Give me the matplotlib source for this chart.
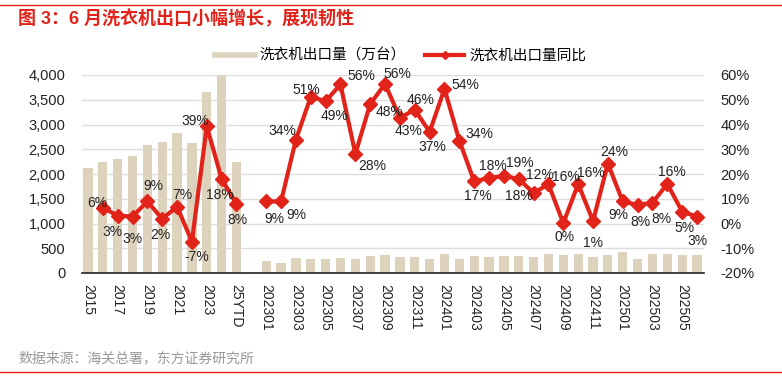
import numpy as np
import matplotlib
matplotlib.use('Agg')
import matplotlib.pyplot as plt
from matplotlib.lines import Line2D

plt.rcParams['font.family'] = ['Liberation Sans', 'Noto Sans CJK SC', 'DejaVu Sans']

# categories: yearly, one empty gap, then monthly
years = ['2015', '2016', '2017', '2018', '2019', '2020', '2021', '2022', '2023', '2024', '25YTD']
months = ['2023%02d' % m for m in range(1, 13)] + ['2024%02d' % m for m in range(1, 13)] + \
         ['2025%02d' % m for m in range(1, 7)]

# export volume (10k units)
year_vol = [2112, 2246, 2300, 2367, 2583, 2644, 2820, 2624, 3650, 4300, 2246]
month_vol = [243, 210, 297, 277, 283, 297, 283, 338, 358, 324, 331, 283,
             385, 277, 344, 324, 344, 344, 317, 391, 358, 385, 331, 358,
             418, 290, 378, 385, 364, 358]

# yoy (%)
year_yoy = [np.nan, 6.4, 3.2, 2.8, 8.9, 1.9, 6.8, -7.3, 39.3, 18.0, 7.9]
month_yoy = [8.9, 8.9, 33.9, 51.2, 49.4, 56.2, 28.1, 48.3, 56.4, 42.7, 46.0, 37.0,
             54.4, 33.5, 17.0, 18.4, 19.2, 18.0, 12.3, 15.9, 0.1, 16.0, 1.0, 24.2,
             8.9, 7.5, 8.4, 16.0, 4.8, 2.8]

# where each yoy label sits relative to its point (dx, dy in points)
year_pos = [None, (-4, 3), (-4, -12), (0, -16.5), (4, 11), (-1.5, -11.5), (3.5, 8.6), (3.5, -11),
            (-8.5, 3.6), (-1.2, -11.5), (1, -11.5)]
month_pos = [(6, -12.5), (11, -9.5), (-10, 6), (-3, 5), (6.4, -10.3), (15, 6.3), (12.5, -8.4), (14, -5.5),
             (8.6, 7.2), (6, -9.6), (4.5, 6.7), (2.2, -10.8), (15, 3), (14.7, 5), (3, -10.8), (3, 8.9),
             (11.3, 9.6), (0, -12), (4.3, 13), (12.5, 5), (1, -9.6), (9, 8), (0, -15.8), (4.5, 8.6),
             (-3.3, -9.6), (1.9, -12), (6.8, -12), (3.2, 8.4), (1.5, -11.8), (0.5, -17.8)]

labels = years + [''] + months
vol = year_vol + [np.nan] + month_vol
yoy = year_yoy + [np.nan] + month_yoy
pos = year_pos + [None] + month_pos
x = np.arange(len(labels))

fig = plt.figure(figsize=(7.82, 3.78), dpi=100)
ax = fig.add_axes([82 / 782, 1 - 273 / 378, (704 - 82) / 782, (273 - 75) / 378])
ax2 = ax.twinx()

bar_c = '#DDD3BC'
red = '#E2231A'

ax.bar(x, vol, width=0.62, color=bar_c, zorder=2)
ax.set_ylim(0, 4000)
ax.set_yticks(range(0, 4001, 500))
ax.set_yticklabels(['{:,}'.format(v) for v in range(0, 4001, 500)], fontsize=10.5, color='#222222')
ax.yaxis.grid(True, color='#DDDDDD', linewidth=1, zorder=0)
ax.set_axisbelow(True)
ax.set_xlim(-0.4, 41.47)
ax.set_xticks(x[::2])
ax.set_xticklabels(labels[::2], rotation=270, fontsize=10, color='#222222')
ax.tick_params(axis='y', length=0, pad=12)
ax.tick_params(axis='x', length=0, pad=8)
for s in ['top', 'right', 'left']:
    ax.spines[s].set_visible(False)
ax.spines['bottom'].set_color('#222222')
ax.spines['bottom'].set_linewidth(1.2)

ax2.plot(x, yoy, color=red, lw=3, marker='D', ms=7.5, zorder=5)
ax2.set_ylim(-20, 60)
ax2.set_yticks(range(-20, 61, 10))
ax2.set_yticklabels(['%d%%' % v for v in range(-20, 61, 10)], fontsize=10.5, color='#222222')
ax2.tick_params(axis='y', length=0, pad=12)
for s in ['top', 'right', 'left', 'bottom']:
    ax2.spines[s].set_visible(False)

for xi, v, p in zip(x, yoy, pos):
    if p is None or np.isnan(v):
        continue
    ax2.annotate('%d%%' % round(v), (xi, v), xytext=p, textcoords='offset points',
                 ha='center', va='center', fontsize=10, color='#222222', zorder=6)

handles = [Line2D([0], [0], color=bar_c, lw=4),
           Line2D([0], [0], color=red, lw=3, marker='D', ms=4)]
fig.legend(handles, ['洗衣机出口量（万台）', '洗衣机出口量同比'], loc='center left',
           bbox_to_anchor=(202 / 782, 1 - 56 / 378), ncol=2, frameon=False, fontsize=10.5,
           handlelength=2.7, handletextpad=0.35, columnspacing=1.3)

fig.text(18 / 782, 1 - 19 / 378, '图 3：6 月洗衣机出口小幅增长，展现韧性', color=red,
         fontsize=13, fontweight='bold', va='center', ha='left')
fig.text(18 / 782, 1 - 358 / 378, '数据来源：海关总署，东方证券研究所', color='#999999',
         fontsize=10, va='center', ha='left')
fig.add_artist(Line2D([0, 1], [1 - 5 / 378, 1 - 5 / 378], color=red, lw=1))
fig.add_artist(Line2D([0, 1], [1 - 372 / 378, 1 - 372 / 378], color=red, lw=1))

fig.savefig('out.png', dpi=100)
